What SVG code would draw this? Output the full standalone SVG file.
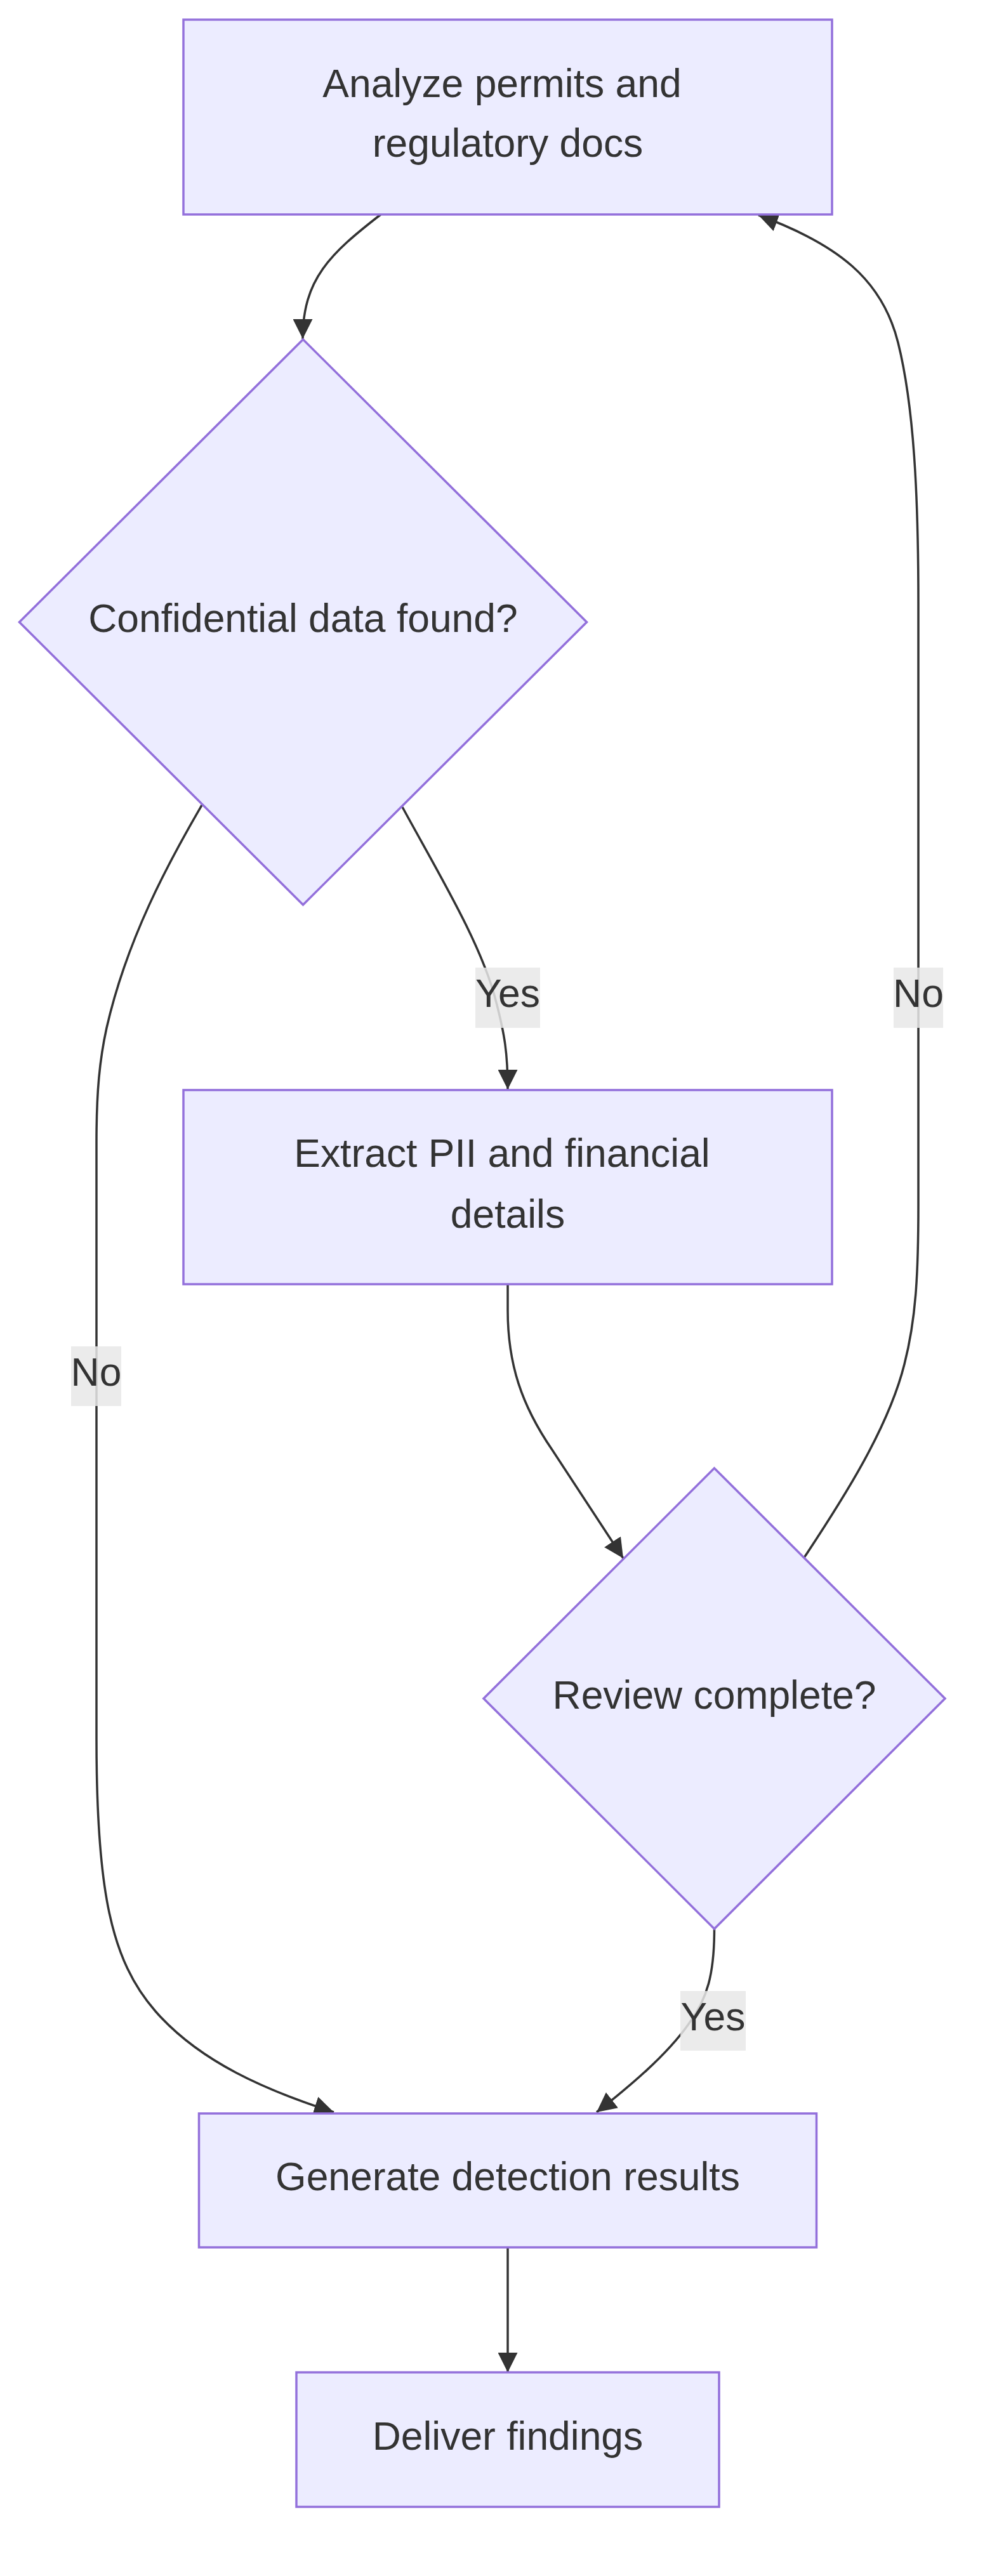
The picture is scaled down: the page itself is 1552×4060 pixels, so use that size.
<svg xmlns="http://www.w3.org/2000/svg" width="1552" height="4060" viewBox="0 0 1552 4060">
<style>
.node{fill:#ECECFF;stroke:#9370DB;stroke-width:3.5}
.lbl{font-family:"Liberation Sans",Arial,sans-serif;font-size:62.4px;fill:#333333;text-anchor:middle}
.edge{fill:none;stroke:#333333;stroke-width:3.5}
.elbg{fill:#e8e8e8;fill-opacity:0.85}
</style>
<defs>
<marker id="arrow" viewBox="0 0 10 10" refX="10" refY="5" markerUnits="userSpaceOnUse" markerWidth="31" markerHeight="31" orient="auto">
<path d="M0,0 L10,5 L0,10 z" fill="#333333"/>
</marker>
</defs>
<rect width="1552" height="4060" fill="#ffffff"/>
<g id="edges">
<path class="edge" marker-end="url(#arrow)" d="M600,338 C520,400 477,440 477,534"/>
<path class="edge" marker-end="url(#arrow)" d="M634,1272 C690,1375 760,1490 782,1580 C795,1630 800,1660 800,1717"/>
<path class="edge" marker-end="url(#arrow)" d="M318,1269 C265,1360 200,1480 168,1620 C157,1670 152,1720 152,1800 L152,2741 C152,2980 175,3090 245,3170 C315,3250 420,3295 526,3329"/>
<path class="edge" marker-end="url(#arrow)" d="M800,2024 L800,2065 C800,2150 822,2215 870,2285 L982,2456"/>
<path class="edge" marker-end="url(#arrow)" d="M1267,2455 C1330,2360 1400,2250 1425,2150 C1443,2080 1447,2010 1447,1900 L1447,950 C1447,780 1440,640 1415,540 C1390,440 1320,385 1195,339"/>
<path class="edge" marker-end="url(#arrow)" d="M1125.5,3040 C1125.5,3110 1115,3150 1085,3190 C1050,3240 990,3290 940,3329"/>
<path class="edge" marker-end="url(#arrow)" d="M800,3542 L800,3739"/>
</g>
<g id="edge-labels">
<g id="label-yes-1"><rect class="elbg" x="749" y="1525" width="102" height="95"/><text class="lbl" x="800" y="1587">Yes</text></g>
<g id="label-no-right"><rect class="elbg" x="1408" y="1525" width="78" height="95"/><text class="lbl" x="1447" y="1587">No</text></g>
<g id="label-no-left"><rect class="elbg" x="112" y="2122" width="79" height="94"/><text class="lbl" x="151.5" y="2184">No</text></g>
<g id="label-yes-2"><rect class="elbg" x="1072" y="3138" width="103" height="94"/><text class="lbl" x="1123.5" y="3200">Yes</text></g>
</g>
<g id="node-analyze">
<rect class="node" x="289" y="31" width="1022" height="307"/>
<text class="lbl" x="791" y="153">Analyze permits and</text>
<text class="lbl" x="800" y="247">regulatory docs</text>
</g>
<g id="node-confidential">
<polygon class="node" points="477.5,535 924.5,980.5 477.5,1426 30.5,980.5"/>
<text class="lbl" x="477.5" y="996">Confidential data found?</text>
</g>
<g id="node-extract">
<rect class="node" x="289" y="1718" width="1022" height="306"/>
<text class="lbl" x="791" y="1839">Extract PII and financial</text>
<text class="lbl" x="800" y="1935">details</text>
</g>
<g id="node-review">
<polygon class="node" points="1125.5,2314 1489,2677 1125.5,3040 762,2677"/>
<text class="lbl" x="1125.5" y="2693">Review complete?</text>
</g>
<g id="node-generate">
<rect class="node" x="313.5" y="3331" width="973" height="211"/>
<text class="lbl" x="800" y="3452">Generate detection results</text>
</g>
<g id="node-deliver">
<rect class="node" x="467" y="3739" width="666" height="212"/>
<text class="lbl" x="800" y="3861">Deliver findings</text>
</g>
</svg>
